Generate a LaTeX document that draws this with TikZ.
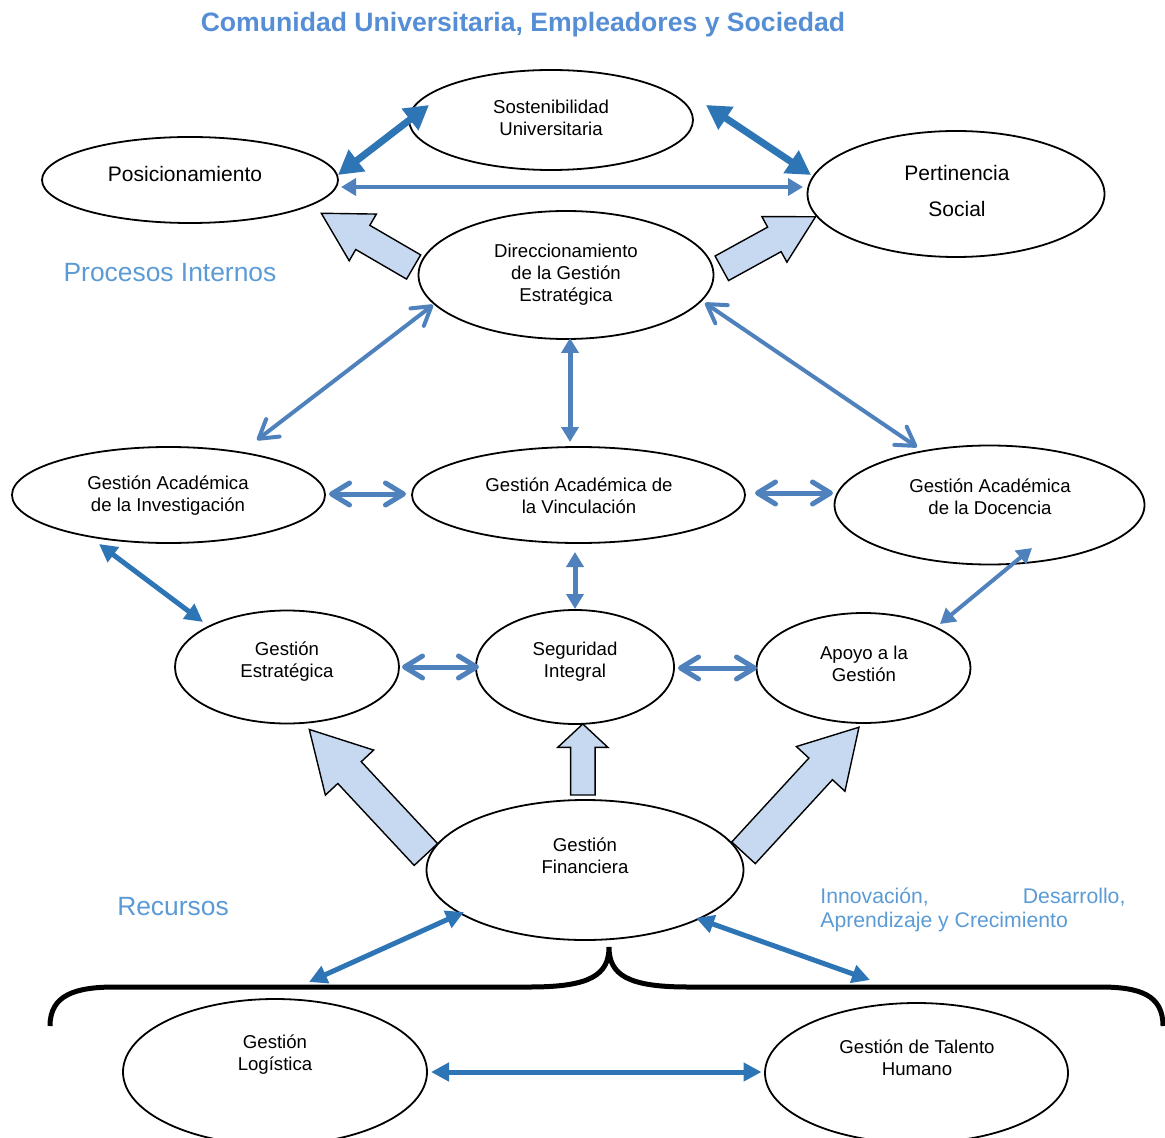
\documentclass[tikz,border=0pt]{standalone}
\usepackage{fontspec}
\setmainfont{Liberation Sans}
\usetikzlibrary{shapes.geometric,arrows.meta,calc}

\definecolor{dkblue}{HTML}{2E75B6}
\definecolor{ltblue}{HTML}{4F81BD}
\definecolor{fillblue}{HTML}{C6D9F1}
\definecolor{txtblue}{HTML}{5B9BD5}
\definecolor{titleblue}{HTML}{558ED5}

\tikzset{
  ell/.style={draw, ellipse, line width=0.9pt, fill=white, inner sep=0pt},
  txt/.style={align=center, inner sep=0pt, font=\fontsize{9.3}{11}\selectfont},
  bigtxt/.style={align=center, inner sep=0pt, font=\fontsize{10.5}{18}\selectfont},
  lbl/.style={text=txtblue, inner sep=0pt, font=\fontsize{13.2}{15}\selectfont},
  blockarrow/.style={draw=black, line width=0.7pt, fill=fillblue, line join=miter},
  dkarrbig/.style={draw=dkblue, line width=3.5pt, >={Triangle[length=12pt,width=13pt]}, <->},
  dkarr/.style={draw=dkblue, line width=2.5pt, >={Triangle[length=9pt,width=9pt]}, <->},
  ltarr/.style={draw=ltblue, line width=2pt, >={Triangle[length=7.5pt,width=8.5pt]}, <->},
  barbarr/.style={draw=ltblue, line width=2.5pt, >={Straight Barb[length=9pt,width=11pt,round]}, <->},
  brace/.style={draw=black, line width=2.5pt},
}

% tail, angle, length, shaft half width, head half width, head length
\newcommand{\bigarrow}[6]{%
  \draw[blockarrow, shift={#1}, rotate=#2] (0,-#4) -- ({#3-#6},-#4) -- ({#3-#6},-#5)
    -- (#3,0) -- ({#3-#6},#5) -- ({#3-#6},#4) -- (0,#4) -- cycle;}

\begin{document}
\begin{tikzpicture}[x=0.5pt,y=-0.5pt]
    \useasboundingbox (0,0) rectangle (1165,1138);

    % big arrows
    \bigarrow{(413.6,267)}{149.8}{106.8}{14}{27}{48}
    \bigarrow{(721.8,268.3)}{28.8}{107}{14}{26}{47}
    \bigarrow{(425.9,854.5)}{133}{171}{16}{33}{59}
    \bigarrow{(582.8,795)}{90}{71}{12.25}{25}{23.3}
    \bigarrow{(743.5,852.8)}{47.4}{170.6}{16}{33}{56.6}

    % ellipses
    \node[ell, minimum width=142pt, minimum height=50pt] (sost) at (551,120) {};
    \node[ell, minimum width=148pt, minimum height=43pt] (pos) at (190,180) {};
    \node[ell, minimum width=148.5pt, minimum height=63pt] (pert) at (956,194) {};
    \node[ell, minimum width=147.5pt, minimum height=64pt] (dir) at (566,275) {};
    \node[ell, minimum width=156.5pt, minimum height=48pt] (inv) at (168.5,495) {};
    \node[ell, minimum width=166.5pt, minimum height=48pt] (vinc) at (578.5,495) {};
    \node[ell, minimum width=155pt, minimum height=59.5pt] (doc) at (989.5,505) {};
    \node[ell, minimum width=112pt, minimum height=56.5pt] (gest) at (287,667) {};
    \node[ell, minimum width=99pt, minimum height=57pt] (seg) at (575,667) {};
    \node[ell, minimum width=107pt, minimum height=55pt] (apoyo) at (863.5,668) {};
    \node[ell, minimum width=158.5pt, minimum height=70pt] (fin) at (585,870) {};
    \node[ell, minimum width=152pt, minimum height=73pt] (log) at (275,1072) {};
    \node[ell, minimum width=151.5pt, minimum height=70pt] (tal) at (916.5,1073) {};

    % texts
    \node[txt] (sostT) at (551,118) {Sostenibilidad\\Universitaria};
    \node[bigtxt] (posT) at (185,174) {Posicionamiento};
    \node[bigtxt] (pertT) at (957,191) {Pertinencia\\Social};
    \node[txt] (dirT) at (566,275) {Direccionamiento\\de la Gestión\\Estratégica};
    \node[txt] (invT) at (168,496) {Gestión Académica\\de la Investigación};
    \node[txt] (vincT) at (579,495.5) {Gestión Académica de\\la Vinculación};
    \node[txt] (docT) at (990,497) {Gestión Académica\\de la Docencia};
    \node[txt] (gestT) at (287,662) {Gestión\\Estratégica};
    \node[txt] (segT) at (575,662) {Seguridad\\Integral};
    \node[txt] (apoyoT) at (864,664) {Apoyo a la\\Gestión};
    \node[txt] (finT) at (585,855.5) {Gestión\\Financiera};
    \node[txt] (logT) at (275,1055) {Gestión\\Logística};
    \node[txt] (talT) at (917,1058) {Gestión de Talento\\Humano};

    \node[lbl, text=titleblue, font=\bfseries\fontsize{13.3}{15}\selectfont] (title) at (523,25) {Comunidad Universitaria, Empleadores y Sociedad};
    \node[lbl] (procesos) at (170,273) {Procesos Internos};
    \node[lbl] (recursos) at (173,907) {Recursos};
    \node[lbl, font=\fontsize{10.6}{12}\selectfont, text width=152.5pt, align=justify, anchor=north west] (innov) at (820,887) {Innovación, Desarrollo,\linebreak Aprendizaje y Crecimiento};

    % brace
    \draw[brace] (50,1026) .. controls (50,995) and (75,987) .. (115,987) -- (530,987)
        .. controls (590,987) and (609,975) .. (609,947)
        .. controls (609,975) and (628,987) .. (688,987) -- (1100,987)
        .. controls (1140,987) and (1163,995) .. (1163,1026);
    \coordinate (braceL) at (309,982);
    \coordinate (braceR) at (870,980);

    % connectors
    \draw[dkarrbig] ([shift={(148,-5)}]pos.center) -- ([shift={(-122,-15)}]sost.center);
    \draw[dkarrbig] ([shift={(155,-15)}]sost.center) -- ([shift={(-145,-19)}]pert.center);
    \draw[ltarr] ([shift={(151,7)}]pos.center) -- ([shift={(-153,-7)}]pert.center);

    \draw[barbarr, line width=2pt] ([shift={(-133,30)}]dir.center) -- ([shift={(88.5,-55)}]inv.center);
    \draw[ltarr, line width=2.5pt] ([shift={(4,63)}]dir.center) -- ([shift={(-8.5,-53)}]vinc.center);
    \draw[barbarr, line width=2pt] ([shift={(139,28)}]dir.center) -- ([shift={(-72.5,-58)}]doc.center);

    \draw[barbarr] ([shift={(160.5,-1)}]inv.center) -- ([shift={(-172.5,-1)}]vinc.center);
    \draw[barbarr] ([shift={(176.5,-2)}]vinc.center) -- ([shift={(-156.5,-12)}]doc.center);

    \draw[dkarr] ([shift={(-69.5,49)}]inv.center) -- ([shift={(-84,-45)}]gest.center);
    \draw[ltarr, line width=2.5pt] ([shift={(-3.5,57)}]vinc.center) -- ([shift={(0,-58)}]seg.center);
    \draw[ltarr] ([shift={(42.5,43)}]doc.center) -- ([shift={(76.5,-44)}]apoyo.center);

    \draw[barbarr] ([shift={(115,0)}]gest.center) -- ([shift={(-96,0)}]seg.center);
    \draw[barbarr] ([shift={(103,1)}]seg.center) -- ([shift={(-106.5,0)}]apoyo.center);

    \draw[dkarr] ([shift={(-121,42)}]fin.center) -- (braceL);
    \draw[dkarr] ([shift={(111,48)}]fin.center) -- (braceR);
    \draw[dkarr] ([shift={(156,0)}]log.center) -- ([shift={(-155,-1)}]tal.center);

\end{tikzpicture}
\end{document}
